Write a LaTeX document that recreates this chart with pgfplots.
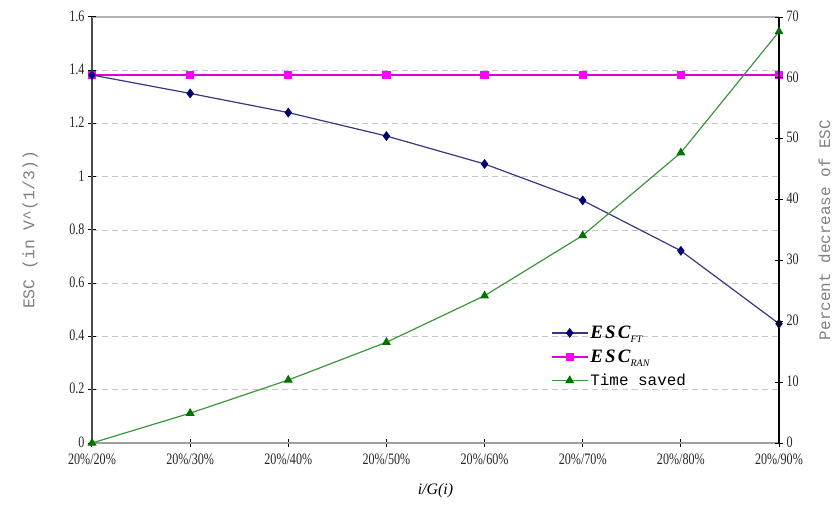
\documentclass[border=0pt]{standalone}
\usepackage{fontspec}
\setmainfont{Liberation Serif}
\newfontfamily\tickfont{Liberation Serif}[FakeStretch=0.76]
\newfontfamily\labfont{Liberation Mono}
\newfontfamily\escfont{Liberation Serif}[LetterSpace=12]
\usepackage{pgfplots}
\pgfplotsset{compat=1.18}
\definecolor{navyc}{RGB}{0,0,110}
\definecolor{ftline}{RGB}{55,55,130}
\definecolor{mag}{RGB}{255,0,255}
\definecolor{magline}{RGB}{220,0,220}
\definecolor{grn}{RGB}{0,115,0}
\definecolor{grnline}{RGB}{60,150,60}
\pgfplotsset{
  ftstyle/.style={color=ftline, line width=1.2bp, mark=diamond*, mark size=4bp, mark options={fill=navyc, draw=navyc, solid}},
  ranstyle/.style={color=magline, line width=1.2bp, mark=square*, mark size=3.5bp, mark options={fill=mag, draw=mag, solid}},
  tsstyle/.style={color=grnline, line width=1.2bp, mark=triangle*, mark size=4bp, mark options={fill=grn, draw=grn, solid}},
  common/.style={
    at={(0,0)}, anchor=south west,
    scale only axis, width=687bp, height=426bp,
    xmin=0, xmax=7,
    tick align=center, major tick length=8bp,
    tick style={black, line width=1bp},
    ticklabel style={font=\tickfont\fontsize{16}{16}\selectfont, text=black!85},
    /pgf/number format/assume math mode=true,
  }
}
\begin{document}
\begin{tikzpicture}
\useasboundingbox (-92bp,-68bp) rectangle (745bp,443bp);
\begin{axis}[
  common,
  ymin=0, ymax=1.6,
  axis x line*=bottom, axis y line*=left,
  xtick={0,1,2,3,4,5,6,7},
  xticklabels={20\%/20\%,20\%/30\%,20\%/40\%,20\%/50\%,20\%/60\%,20\%/70\%,20\%/80\%,20\%/90\%},
  xticklabel style={yshift=-3bp},
  yticklabel style={yshift=1bp},
  ytick={0,0.2,0.4,0.6,0.8,1,1.2,1.4},
  extra y ticks={1.6},
  extra y tick style={grid style={solid, gray!60, line width=1.6bp}},
  ymajorgrids,
  grid style={gray!45, line width=0.9bp, dash pattern=on 6bp off 4bp},
  x axis line style={-, gray!75, line width=2.6bp},
  y axis line style={-, black!70, line width=1.8bp},
  xlabel={\fontsize{16}{16}\selectfont\itshape i/G(i)},
  xlabel style={at={(axis description cs:0.5,-0.112)}, anchor=center},
  ylabel={\labfont\fontsize{16.5}{16.5}\selectfont ESC (in V\textasciicircum(1/3))},
  ylabel style={at={(axis description cs:-0.09,0.5)}, anchor=center, text=black!50},
]
\addplot[ranstyle] coordinates {(0,1.382)(1,1.382)(2,1.382)(3,1.382)(4,1.382)(5,1.382)(6,1.382)(7,1.382)};
\addplot[ftstyle] coordinates {(0,1.382)(1,1.313)(2,1.241)(3,1.153)(4,1.048)(5,0.911)(6,0.722)(7,0.448)};
\end{axis}
\begin{axis}[
  common,
  ymin=0, ymax=70,
  axis x line=none, axis y line*=right,
  ytick={0,10,20,30,40,50,60,70},
  yticklabel style={yshift=1bp},
  y axis line style={-, black, line width=1.5bp},
  ylabel={\labfont\fontsize{16}{16}\selectfont Percent decrease of ESC},
  ylabel style={at={(axis description cs:1.066,0.5)}, anchor=center, text=black!50},
  legend style={draw=none, fill=none, at={(axis description cs:0.668,0.28)}, anchor=north west,
    row sep=6bp, inner sep=0pt, nodes={inner sep=2bp}},
  legend cell align=left,
  legend image code/.code={\draw[mark repeat=2, mark phase=2] plot coordinates {(0bp,0bp)(18bp,0bp)(36bp,0bp)};},
]
\addlegendimage{ftstyle}
\addlegendentry{{\escfont\fontsize{19}{19}\selectfont\bfseries\itshape ESC}{\fontsize{10}{10}\selectfont\itshape\raisebox{-4bp}{FT}}}
\addlegendimage{ranstyle}
\addlegendentry{{\escfont\fontsize{19}{19}\selectfont\bfseries\itshape ESC}{\fontsize{10}{10}\selectfont\itshape\raisebox{-4bp}{RAN}}}
\addplot[tsstyle] coordinates {(0,0)(1,4.9)(2,10.35)(3,16.55)(4,24.2)(5,34.1)(6,47.7)(7,67.6)};
\addlegendentry{\labfont\fontsize{16}{16}\selectfont Time saved}
\end{axis}
\end{tikzpicture}
\end{document}
